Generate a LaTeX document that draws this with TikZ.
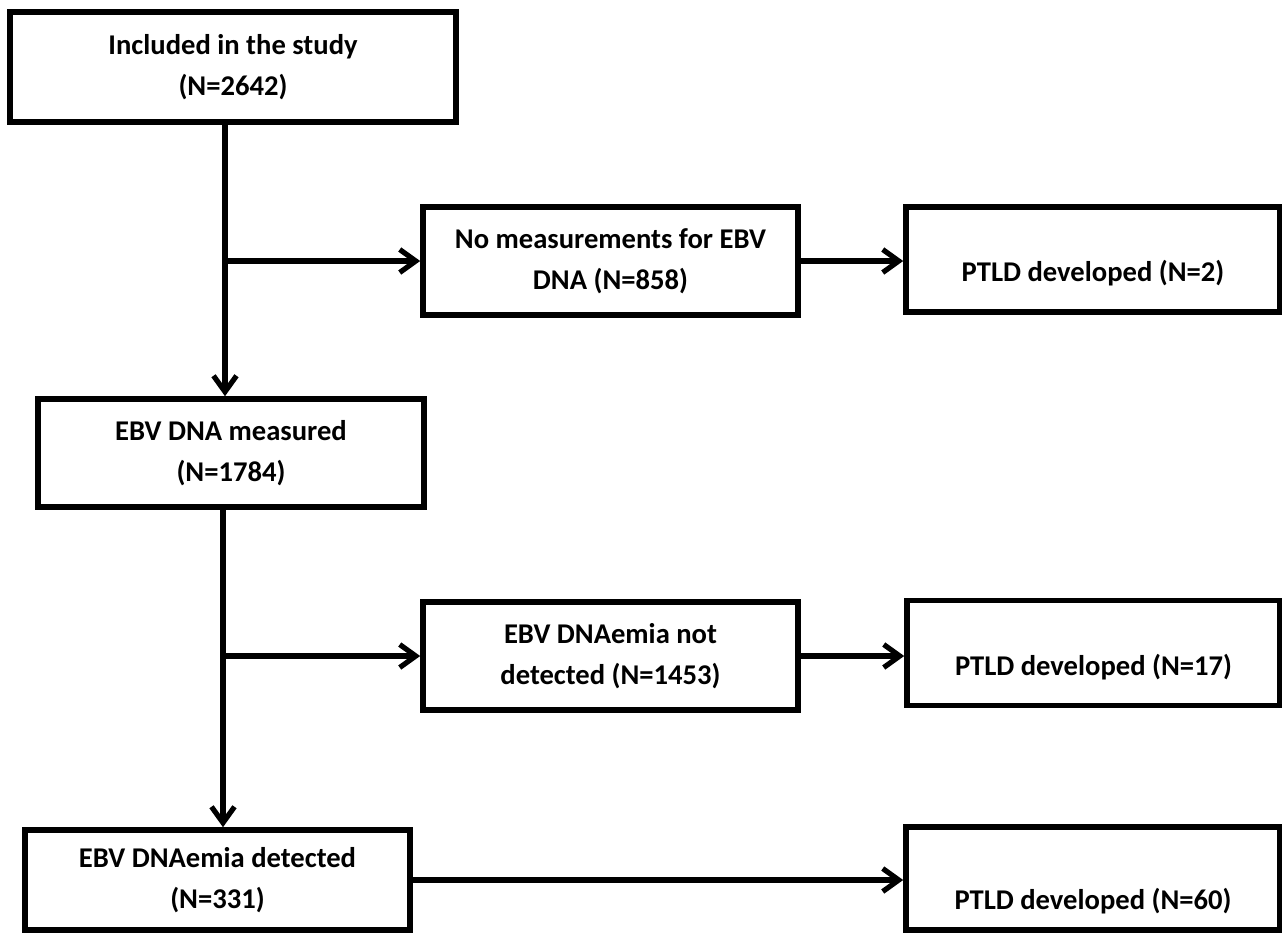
\documentclass[tikz,border=0pt]{standalone}
\usepackage{fontspec}
\setmainfont{Carlito}
\usetikzlibrary{arrows.meta}

\tikzset{
  flowbox/.style={draw, line width=2.8pt, align=center, inner sep=2pt,
                  font=\bfseries\fontsize{14.3}{20.5}\selectfont},
  lowtext/.style={text height=#1, text depth=3.5pt},
  flowarr/.style={line width=2.6pt, -{Straight Barb[length=8pt,width=11.5pt]}},
}

\begin{document}
\begin{tikzpicture}[x=0.5pt,y=-0.5pt]
  \useasboundingbox (0,0) rectangle (1282,934);

  % left column
  \node[flowbox, minimum width=223pt, minimum height=55pt] (incl) at (233,67)
    {Included in the study\\(N=2642)};
  \node[flowbox, minimum width=193pt, minimum height=54pt] (meas) at (231,453)
    {EBV DNA measured\\(N=1784)};
  \node[flowbox, minimum width=192.5pt, minimum height=50pt] (det) at (217.5,880)
    {EBV DNAemia detected\\(N=331)};

  % middle column
  \node[flowbox, minimum width=187.5pt, minimum height=54pt] (nomeas) at (610.5,261)
    {No measurements for EBV\\DNA (N=858)};
  \node[flowbox, minimum width=187.5pt, minimum height=54pt] (notdet) at (610.5,656)
    {EBV DNAemia not\\detected (N=1453)};

  % right column
  \node[flowbox, lowtext=25pt, minimum width=187pt, minimum height=52.5pt] (ptldA) at (1093,259.5)
    {PTLD developed (N=2)};
  \node[flowbox, lowtext=26pt, minimum width=186.5pt, minimum height=52.5pt] (ptldB) at (1093.5,653)
    {PTLD developed (N=17)};
  \node[flowbox, lowtext=34pt, minimum width=187pt, minimum height=51.5pt] (ptldC) at (1093,878.5)
    {PTLD developed (N=60)};

  \coordinate (trunkA) at (225,0);
  \coordinate (trunkB) at (223,0);

  % connectors
  \draw[flowarr] (incl.south -| trunkA) -- (meas.north -| trunkA);
  \draw[flowarr] (trunkA |- nomeas.west) -- (nomeas.west);
  \draw[flowarr] (nomeas.east) -- (ptldA.west |- nomeas.east);

  \draw[flowarr] (meas.south -| trunkB) -- (det.north -| trunkB);
  \draw[flowarr] (trunkB |- notdet.west) -- (notdet.west);
  \draw[flowarr] (notdet.east) -- (ptldB.west |- notdet.east);

  \draw[flowarr] (det.east) -- (ptldC.west |- det.east);
\end{tikzpicture}
\end{document}
